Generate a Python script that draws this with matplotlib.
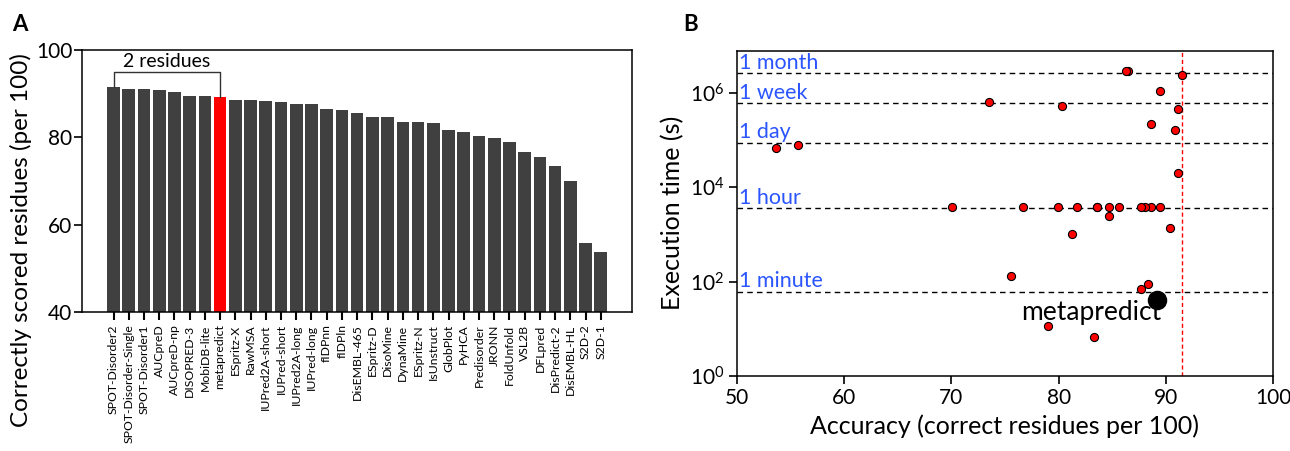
import matplotlib
matplotlib.use("Agg")
import matplotlib.pyplot as plt
import numpy as np

plt.rcParams['font.family'] = ['Lato', 'DejaVu Sans']

# predictors, sorted by accuracy (correct residues per 100)
methods = ['SPOT-Disorder2', 'SPOT-Disorder-Single', 'SPOT-Disorder1', 'AUCpreD',
           'AUCpreD-np', 'DISOPRED-3', 'MobiDB-lite', 'metapredict', 'ESpritz-X',
           'RawMSA', 'IUPred2A-short', 'IUPred-short', 'IUPred2A-long', 'IUPred-long',
           'fIDPnn', 'fIDPln', 'DisEMBL-465', 'ESpritz-D', 'DisoMine', 'DynaMine',
           'ESpritz-N', 'IsUnstruct', 'GlobPlot', 'PyHCA', 'Predisorder', 'JRONN',
           'FoldUnfold', 'VSL2B', 'DFLpred', 'DisPredict-2', 'DisEMBL-HL', 'S2D-2', 'S2D-1']
accuracy = [91.5, 91.1, 91.1, 90.9, 90.4, 89.5, 89.5, 89.2, 88.6, 88.6, 88.35, 88.1,
            87.7, 87.7, 86.5, 86.3, 85.6, 84.7, 84.7, 83.55, 83.55, 83.33, 81.73, 81.27,
            80.36, 79.9, 79.0, 76.7, 75.56, 73.5, 70.08, 55.69, 53.64]
# execution time in seconds
exec_time = [2.36e6, 1.96e4, 4.5e5, 1.64e5, 1350, 1.08e6, 3800, 40, 3800, 2.2e5, 90, 3800,
             3800, 71, 2.95e6, 2.95e6, 3800, 3800, 2400, 3800, 3800, 6.8, 3800, 1000,
             5.2e5, 3800, 11.5, 3800, 134, 6.5e5, 3800, 7.9e4, 6.7e4]

time_names = ['1 month', '1 week', '1 day', '1 hour', '1 minute']
time_secs = [2.592e6, 604800, 86400, 3600, 60]

highlight = 'metapredict'

fig = plt.figure(figsize=(12.9, 4.51), dpi=100)
W, H = 1290, 451
axA = fig.add_axes([82 / W, (H - 312) / H, 550 / W, 262 / H])
axB = fig.add_axes([737 / W, (H - 376) / H, 536 / W, 325.3 / H])

# ---- panel A
x = np.arange(len(methods))
colors = ['red' if m == highlight else '#404040' for m in methods]
axA.bar(x, np.array(accuracy) - 40, bottom=40, width=0.83, color=colors)
axA.set_xlim(-2.07, len(methods) + 1.05)
axA.set_ylim(40, 100)
axA.set_yticks([40, 60, 80, 100])
axA.set_xticks(x)
axA.set_xticklabels(methods, rotation=90, fontsize=8.8)
axA.tick_params(axis='y', labelsize=15, length=6, width=1.2, pad=1)
axA.tick_params(axis='x', length=6, width=1.5, pad=3)
axA.set_ylabel('Correctly scored residues (per 100)', fontsize=17.5)
axA.yaxis.set_label_coords(-0.09, 0.275)
for s in axA.spines.values():
    s.set_linewidth(1.1)

# bracket between best and metapredict
i_meta = methods.index(highlight)
yb = 95
axA.plot([0, 0, i_meta, i_meta], [accuracy[0], yb, yb, accuracy[i_meta]],
         color='#333333', lw=1)
axA.text(i_meta / 2, yb + 0.5, '2 residues', ha='center', va='bottom', fontsize=14)

# ---- panel B
for name, t in zip(time_names, time_secs):
    axB.axhline(t, color='black', ls='--', lw=1, dashes=(4, 3))
    axB.text(50.15, t * 1.03, name, color='#2a55ff', fontsize=15.5, ha='left', va='bottom')

axB.axvline(accuracy[0], color='red', ls='--', lw=1, dashes=(3, 2))

others = [i for i, m in enumerate(methods) if m != highlight]
axB.scatter([accuracy[i] for i in others], [exec_time[i] for i in others],
            s=34, color='red', edgecolor='black', linewidth=0.8, zorder=3)
axB.scatter([accuracy[i_meta]], [exec_time[i_meta]], s=170, color='black', zorder=4)
axB.text(accuracy[i_meta] + 0.35, 22, 'metapredict', ha='right', va='center', fontsize=19)

axB.set_yscale('log')
axB.set_xlim(50, 100)
axB.set_ylim(1, 7.8e6)
axB.set_xticks([50, 60, 70, 80, 90, 100])
axB.set_yticks([1, 1e2, 1e4, 1e6])
axB.minorticks_off()
axB.tick_params(labelsize=15, length=6, width=1.2, pad=3)
axB.set_xlabel('Accuracy (correct residues per 100)', fontsize=18, labelpad=4)
axB.set_ylabel('Execution time (s)', fontsize=18, labelpad=4)
for s in axB.spines.values():
    s.set_linewidth(1.1)

fig.text(12 / W, 1 - 31 / H, 'A', fontsize=16, fontweight='bold')
fig.text(683 / W, 1 - 31 / H, 'B', fontsize=16, fontweight='bold')

fig.savefig('out.png', dpi=100)
